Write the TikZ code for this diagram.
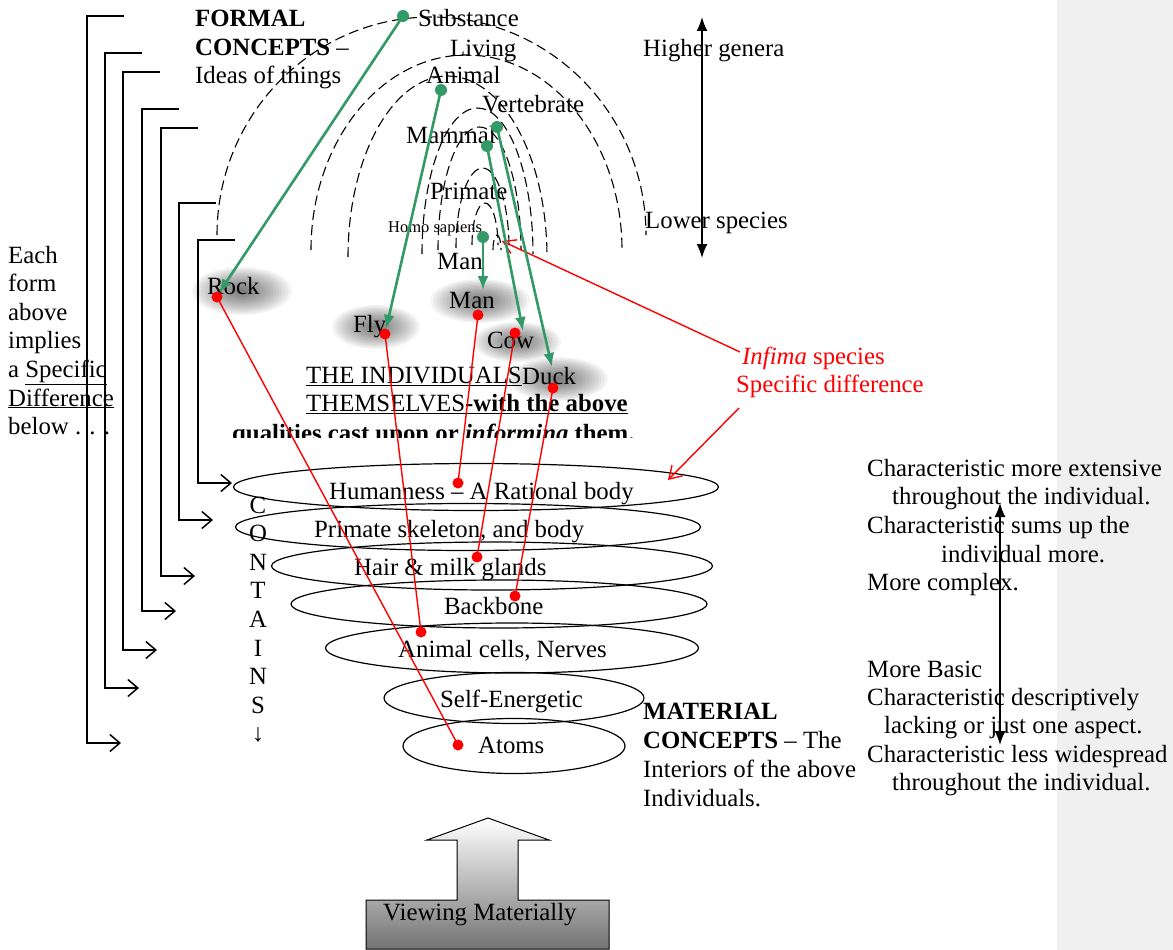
\documentclass[tikz,border=0pt]{standalone}
\usepackage{fontspec}
\setmainfont{Liberation Serif}
\usetikzlibrary{arrows.meta, shapes.geometric}

\definecolor{leafgreen}{RGB}{51,153,102}

\begin{document}
\begin{tikzpicture}[
  x=1pt, y=-1pt,
  every node/.style={inner sep=0pt, font=\fontsize{24.8}{28.6}\selectfont},
  lbl/.style={anchor=base west},
  genus/.style={draw, line width=1.1pt, dash pattern=on 10pt off 5pt},
  brk/.style={draw, line width=1.5pt, -{Straight Barb[length=10pt,width=17pt]}},
  layer/.style={ellipse, draw, line width=1.2pt},
  glink/.style={draw=leafgreen, line width=2.6pt, -{Latex[length=14pt,width=11pt]}},
  rlink/.style={draw=red, line width=1.4pt},
  ptr/.style={draw=red, line width=1.4pt, -{Straight Barb[length=12pt,width=15pt]}},
  span/.style={draw, line width=1.6pt,
               {Latex[length=14pt,width=11pt]}-{Latex[length=14pt,width=11pt]}}
]
  \useasboundingbox (0,0) rectangle (1173,950);
  \fill[black!6] (1057,0) rectangle (1173,950);

  % soft shadows behind the individuals
  \foreach \cx/\cy/\rx/\ry in {242/291/50/24, 376/327/44/22, 480/301/50/22,
                               517/342/44/20, 558/379/50/22}
    \foreach \k in {1,...,16}
      \fill[black, opacity=0.045] (\cx,\cy)
        ellipse [x radius={\rx*\k/16*1pt}, y radius={\ry*\k/16*1pt}];

  % nested genera, outermost first
  \foreach \l/\r/\b/\a in {217/646/235/17, 311/622/250/55, 348/547/257/76,
                           422/533/254/108, 438/521/250/127, 456/509/248/168,
                           472/498/245/203, 493/501/250/235}
    \draw[genus] (\l,\b) arc[start angle=180, end angle=0,
                             x radius={(\r-\l)/2*1pt}, y radius={(\b-\a)*1pt}];

  % brackets from each genus down to its layer
  \foreach \x/\t/\b in {87/16/743, 105/53/688, 123/72/650, 142/109/611,
                        161/128/576, 179/203/520, 198/240/483}
    \draw[brk] (\x+37,\t) -- (\x,\t) -- (\x,\b) -- (\x+34,\b);

  % material layers
  \foreach \nm/\cx/\cy/\w/\h in {eHum/476/487/485/47, ePri/468/527/465/47,
                                 eHair/492/566/441/48, eBack/499/604/416/48,
                                 eCell/512/648/373/50, eSelf/514/698/260/51,
                                 eAtom/514/746/222/55}
    \node[layer, minimum width=\w pt, minimum height=\h pt] (\nm) at (\cx,\cy) {};
  \foreach \nm/\x/\y/\t in {tHum/329/499/{Humanness – A Rational body},
                            tPri/314/537/{Primate skeleton, and body},
                            tHair/354/575/{Hair \& milk glands},
                            tBack/444/614/Backbone,
                            tCell/398/657/{Animal cells, Nerves},
                            tSelf/440/707/Self-Energetic,
                            tAtom/478/753/Atoms}
    \node[lbl] (\nm) at (\x,\y) {\t};

  \foreach \c [count=\i from 0] in {C,O,N,T,A,I,N,S,↓}
    \node[anchor=base] (k\i) at (258,{513+28.6*\i}) {\c};

  % genus labels
  \foreach \nm/\x/\y/\t in {nSub/418/27/Substance, nLiv/450/57/Living,
                            nAni/426/84/Animal, nVer/482/113/Vertebrate,
                            nMam/406/143/Mammal, nPri/430/199/Primate,
                            nMan/437/269/Man}
    \node[lbl] (\nm) at (\x,\y) {\t};
  \node[lbl, font=\fontsize{16.5}{19}\selectfont] (nHomo) at (388,232) {Homo sapiens};

  % the individuals
  \foreach \nm/\x/\y/\t in {iRock/207/294/Rock, iFly/353/332/Fly, iMan/449/308/Man,
                            iCow/487/348/Cow, iDuck/522/384/Duck}
    \node[lbl] (\nm) at (\x,\y) {\t};

  \node[lbl] (fc1) at (195,27) {\textbf{FORMAL}};
  \node[lbl] (fc2) at (195,56) {\textbf{CONCEPTS} –};
  \node[lbl] (fc3) at (195,84) {Ideas of things};

  \foreach \t [count=\i from 0] in {Each, form, above, implies, a \underline{Specific},
                                    \underline{Difference}, below . . .}
    \node[lbl] (ea\i) at (8,{263+28.6*\i}) {\t};

  \node[lbl] (hg) at (643,57) {Higher genera};
  \node[lbl] (ls) at (645,228) {Lower species};
  \coordinate (sTop) at (702,17);
  \coordinate (sBot) at (702,258);
  \draw[span] (sTop) -- (sBot);

  \node[lbl] (ind1) at (306,383) {\underline{THE INDIVIDUALS}};
  \node[lbl] (ind2) at (306,411) {\underline{THEMSELVES\textbf{-with the above}}};
  \begin{scope}
    \clip (200,300) rectangle (700,437.5);
    \node[lbl] (ind3) at (232,441) {\textbf{qualities cast upon or \textit{informing} them.}};
  \end{scope}

  \node[lbl, text=red] (inf1) at (742,364) {\textit{Infima} species};
  \node[lbl, text=red] (inf2) at (736,392) {Specific difference};
  \coordinate (p1s) at (740,352);
  \coordinate (p1e) at (502,241);
  \coordinate (p2s) at (739,408);
  \coordinate (p2e) at (668,480);
  \draw[ptr] (p1s) -- (p1e);
  \draw[ptr] (p2s) -- (p2e);

  \node[lbl] (mc1) at (643,719) {\textbf{MATERIAL}};
  \node[lbl] (mc2) at (643,748) {\textbf{CONCEPTS} – The};
  \node[lbl] (mc3) at (643,777) {Interiors of the above};
  \node[lbl] (mc4) at (643,806) {Individuals.};

  \foreach \nm/\x/\y/\t in {c1/867/476/Characteristic more extensive,
                            c2/892/504/throughout the individual.,
                            c3/867/533/Characteristic sums up the,
                            c4/941/562/individual more.,
                            c5/867/590/More complex.,
                            c6/867/677/More Basic,
                            c7/867/705/Characteristic descriptively,
                            c8/884/733/lacking or just one aspect.,
                            c9/867/762/Characteristic less widespread,
                            c10/892/790/throughout the individual.}
    \node[lbl] (\nm) at (\x,\y) {\t};
  \coordinate (cTop) at (1000,503);
  \coordinate (cBot) at (1000,745);
  \draw[span] (cTop) -- (cBot);

  % viewing arrow
  \shade[top color=white, bottom color=black!55, draw=black, line width=1pt]
    (366,949) -- (366,900) -- (457,900) -- (457,840) -- (427,840) -- (488,818)
    -- (549,840) -- (518,840) -- (518,900) -- (609,900) -- (609,949) -- cycle;
  \node[lbl] (vm) at (383,920) {Viewing Materially};

  % dots and links
  \coordinate (gSub) at (403,16);   \coordinate (gAni) at (441,90);
  \coordinate (gVer) at (497,127);  \coordinate (gMam) at (487,146);
  \coordinate (gHomo) at (483,237);
  \coordinate (rRock) at (217,297); \coordinate (rFly) at (385,334);
  \coordinate (rMan) at (478,315);  \coordinate (rCow) at (515,333);
  \coordinate (rDuck) at (553,388);
  \coordinate (tRock) at (219,293); \coordinate (tFly) at (386,329);
  \coordinate (tMan) at (483,290);  \coordinate (tCow) at (523,331);
  \coordinate (tDuck) at (552,367);
  \coordinate (dHum) at (458,483);  \coordinate (dHair) at (477,557);
  \coordinate (dBack) at (515,596); \coordinate (dCell) at (421,632);
  \coordinate (dAtom) at (458,745);

  \foreach \a/\b in {rRock/dAtom, rFly/dCell, rMan/dHum, rCow/dHair, rDuck/dBack}
    \draw[rlink] (\a) -- (\b);
  \foreach \p in {rRock,rFly,rMan,rCow,rDuck,dHum,dHair,dBack,dCell,dAtom}
    \fill[red] (\p) circle[radius=5.5pt];
  \foreach \a/\b in {gSub/tRock, gAni/tFly, gVer/tDuck, gMam/tCow, gHomo/tMan}
    \draw[glink] (\a) -- (\b);
  \foreach \p in {gSub,gAni,gVer,gMam,gHomo}
    \fill[leafgreen] (\p) circle[radius=6pt];
\end{tikzpicture}
\end{document}
